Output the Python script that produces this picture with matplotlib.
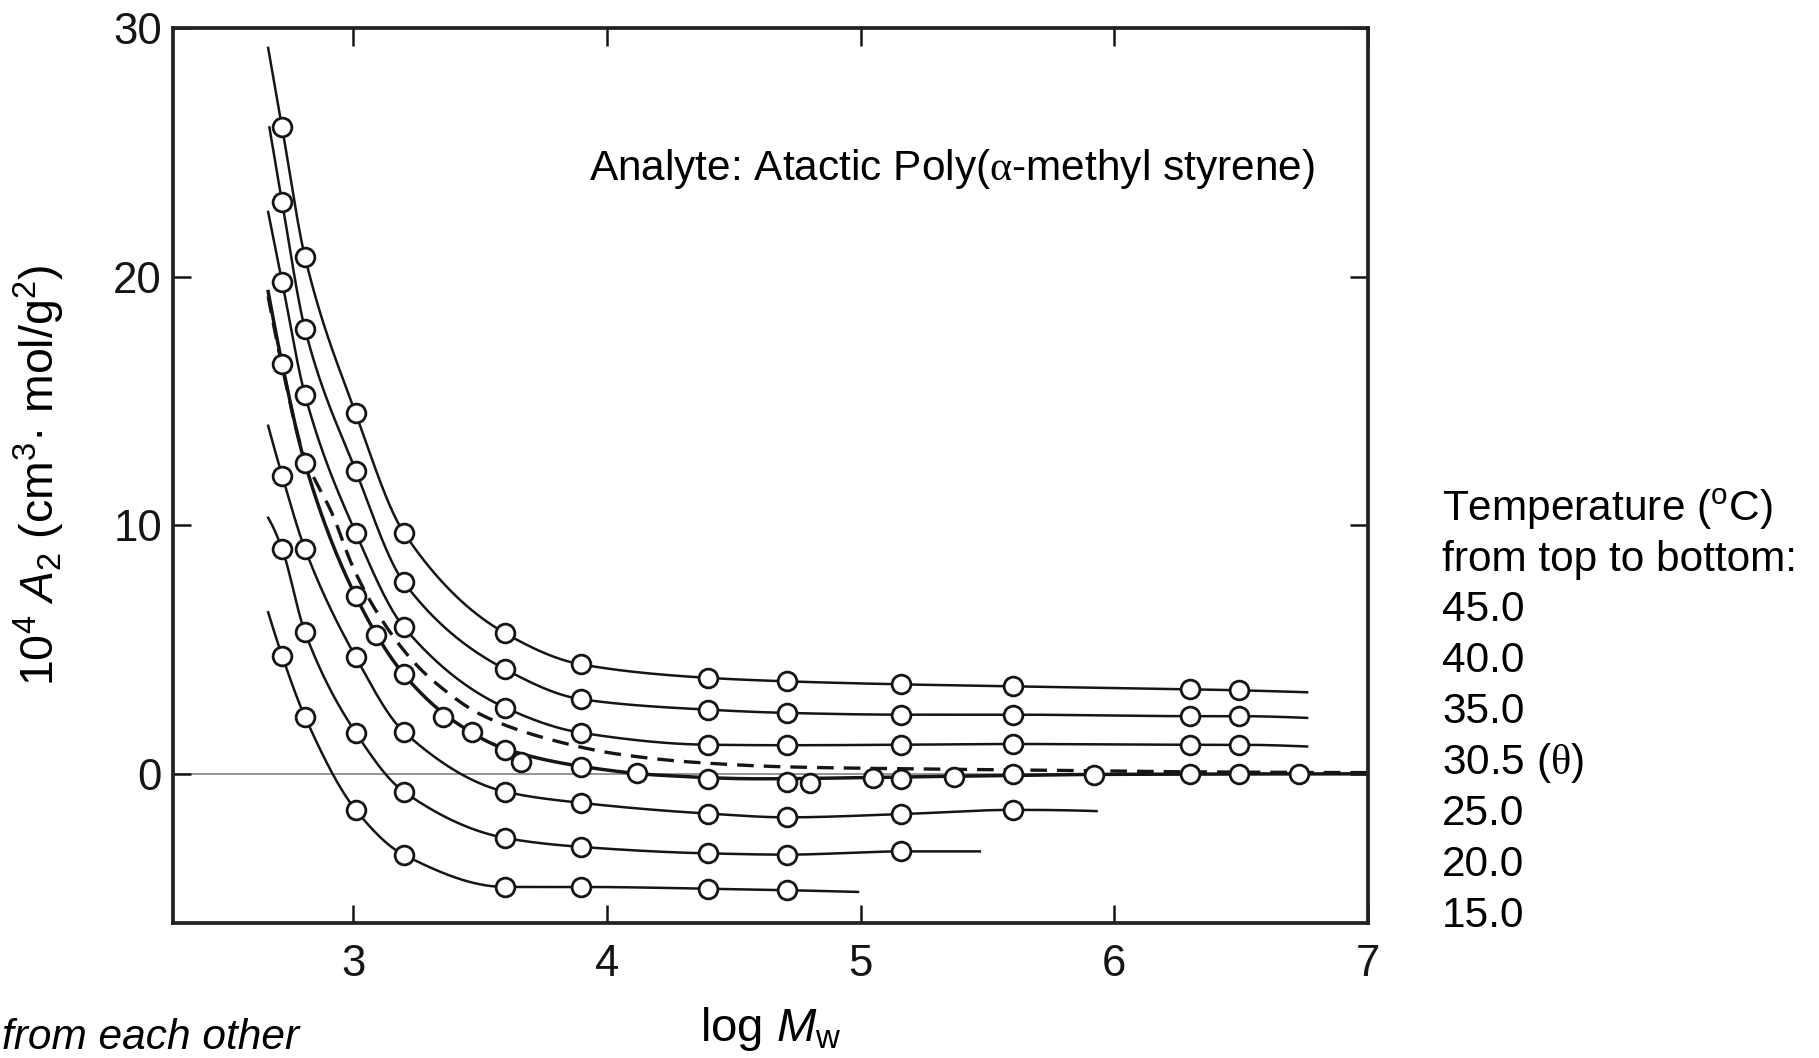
import numpy as np
import matplotlib
matplotlib.use("Agg")
import matplotlib.pyplot as plt

plt.rcParams["font.family"] = ["Liberation Sans", "DejaVu Sans"]
plt.rcParams["mathtext.fontset"] = "custom"
plt.rcParams["mathtext.rm"] = "Liberation Sans"
plt.rcParams["mathtext.it"] = "Liberation Sans:italic"
plt.rcParams["mathtext.sf"] = "Liberation Serif"

# ---- measured A2 values (10^4 cm^3 mol / g^2) versus log Mw ----
t45_x = [2.72, 2.81, 3.01, 3.20, 3.60, 3.90, 4.40, 4.71, 5.16, 5.60, 6.30, 6.49]
t45_y = [26.0, 20.8, 14.5, 9.7, 5.65, 4.4, 3.86, 3.72, 3.60, 3.52, 3.40, 3.36]

t40_x = [2.72, 2.81, 3.01, 3.20, 3.60, 3.90, 4.40, 4.71, 5.16, 5.60, 6.30, 6.49]
t40_y = [23.0, 17.9, 12.2, 7.7, 4.2, 3.0, 2.58, 2.45, 2.38, 2.38, 2.32, 2.32]

t35_x = [2.72, 2.81, 3.01, 3.20, 3.60, 3.90, 4.40, 4.71, 5.16, 5.60, 6.30, 6.49]
t35_y = [19.8, 15.25, 9.7, 5.9, 2.66, 1.65, 1.17, 1.15, 1.17, 1.20, 1.17, 1.17]

theta_x = [2.72, 2.81, 3.01, 3.09, 3.20, 3.355, 3.47, 3.60, 3.66, 3.90, 4.12,
           4.40, 4.71, 4.80, 5.05, 5.16, 5.37, 5.60, 5.92, 6.30, 6.49, 6.73]
theta_y = [16.5, 12.5, 7.15, 5.6, 4.0, 2.29, 1.69, 0.97, 0.48, 0.28, 0.04,
           -0.22, -0.34, -0.35, -0.17, -0.20, -0.11, 0.0, -0.04, 0.0, 0.0, 0.0]

t25_x = [2.72, 2.81, 3.01, 3.20, 3.60, 3.90, 4.40, 4.71, 5.16, 5.60]
t25_y = [12.0, 9.05, 4.7, 1.69, -0.72, -1.17, -1.60, -1.75, -1.62, -1.45]

t20_x = [2.72, 2.81, 3.01, 3.20, 3.60, 3.90, 4.40, 4.71, 5.16]
t20_y = [9.05, 5.7, 1.66, -0.72, -2.58, -2.94, -3.20, -3.25, -3.12]

t15_x = [2.72, 2.81, 3.01, 3.20, 3.60, 3.90, 4.40, 4.71]
t15_y = [4.75, 2.3, -1.45, -3.26, -4.55, -4.55, -4.62, -4.68]

# where each drawn curve begins and ends (x, y)
curve_start = {"45": (2.665, 29.2), "40": (2.67, 26.0), "35": (2.665, 22.6),
               "25": (2.665, 14.0), "20": (2.665, 10.3), "15": (2.665, 6.5)}
curve_end = {"45": (6.76, 3.28), "40": (6.76, 2.25), "35": (6.76, 1.10),
             "25": (5.93, -1.50), "20": (5.47, -3.12), "15": (4.99, -4.75)}

# smoothed theta-temperature curve
theta_line_x = [2.665, 2.72, 2.81, 3.01, 3.20, 3.40, 3.60, 3.90, 4.20, 4.60, 5.20, 6.00, 7.00]
theta_line_y = [19.4, 16.5, 12.5, 7.15, 4.0, 2.1, 1.0, 0.3, -0.05, -0.2, -0.12, -0.02, 0.0]

# dashed reference curve
dash_x = [2.665, 2.72, 2.80, 2.92, 3.00, 3.10, 3.23, 3.32, 3.51, 3.77, 4.04, 4.35, 4.71, 5.20, 5.70, 6.30, 7.00]
dash_y = [19.2, 16.4, 13.0, 10.4, 8.3, 6.4, 4.6, 3.7, 2.35, 1.4, 0.8, 0.46, 0.28, 0.20, 0.15, 0.08, 0.05]

x_ticks = [3, 4, 5, 6, 7]
y_ticks = [0, 10, 20, 30]

legend_lines = ["Temperature ($^{\\mathrm{o}}$C)", "from top to bottom:",
                "45.0", "40.0", "35.0", "30.5 ($\\mathsf{\\theta}$)",
                "25.0", "20.0", "15.0"]


def pchip(x, y, xs):
    """Shape-preserving piecewise cubic Hermite curve through (x, y)."""
    x = np.asarray(x, float)
    y = np.asarray(y, float)
    h = np.diff(x)
    d = np.diff(y) / h
    n = len(x)
    m = np.zeros(n)
    for k in range(1, n - 1):
        if d[k - 1] * d[k] > 0:
            w1 = 2 * h[k] + h[k - 1]
            w2 = h[k] + 2 * h[k - 1]
            m[k] = (w1 + w2) / (w1 / d[k - 1] + w2 / d[k])

    def end_slope(h0, h1, d0, d1):
        s = ((2 * h0 + h1) * d0 - h0 * d1) / (h0 + h1)
        if np.sign(s) != np.sign(d0):
            s = 0.0
        elif np.sign(d0) != np.sign(d1) and abs(s) > abs(3 * d0):
            s = 3 * d0
        return s

    m[0] = end_slope(h[0], h[1], d[0], d[1])
    m[-1] = end_slope(h[-1], h[-2], d[-1], d[-2])
    idx = np.clip(np.searchsorted(x, xs) - 1, 0, n - 2)
    t = (xs - x[idx]) / h[idx]
    h00 = 2 * t**3 - 3 * t**2 + 1
    h10 = t**3 - 2 * t**2 + t
    h01 = -2 * t**3 + 3 * t**2
    h11 = t**3 - t**2
    return h00 * y[idx] + h10 * h[idx] * m[idx] + h01 * y[idx + 1] + h11 * h[idx] * m[idx + 1]


W, H = 1819, 1058
fig = plt.figure(figsize=(W / 100, H / 100), dpi=100)
fig.patch.set_facecolor("white")
ax = fig.add_axes([173 / W, 1 - 923 / H, (1368 - 173) / W, (923 - 28) / H])

ink = "#151515"
ax.axhline(0, color="#8c8c8c", lw=1.3, zorder=1)

series = [("45", t45_x, t45_y), ("40", t40_x, t40_y), ("35", t35_x, t35_y),
          ("25", t25_x, t25_y), ("20", t20_x, t20_y), ("15", t15_x, t15_y)]
for key, mx, my in series:
    x0, y0 = curve_start[key]
    x1, y1 = curve_end[key]
    lx = [x0] + list(mx) + [x1]
    ly = [y0] + list(my) + [y1]
    xs = np.linspace(x0, x1, 600)
    ax.plot(xs, pchip(lx, ly, xs), color=ink, lw=1.8, zorder=2)
    ax.plot(mx, my, "o", ms=13.5, mfc="white", mec=ink, mew=2.0, zorder=3)

xs = np.linspace(theta_line_x[0], theta_line_x[-1], 800)
ax.plot(xs, pchip(theta_line_x, theta_line_y, xs), color=ink, lw=2.5, zorder=2)
xs = np.linspace(dash_x[0], dash_x[-1], 800)
ax.plot(xs, pchip(dash_x, dash_y, xs), color=ink, lw=2.4, ls=(0, (5, 3)), zorder=2)
ax.plot(theta_x, theta_y, "o", ms=13.5, mfc="white", mec=ink, mew=2.0, zorder=3)

ax.set_xlim(2.29, 7.0)
ax.set_ylim(-6, 30)
ax.set_xticks(x_ticks)
ax.set_yticks(y_ticks)
ax.tick_params(direction="in", length=13, width=1.8, top=True, right=True,
               labelsize=31.5, colors=ink)
ax.tick_params(axis="x", pad=15)
ax.tick_params(axis="y", pad=8)
for s in ax.spines.values():
    s.set_linewidth(2.7)
    s.set_color("#222222")

ax.set_xlabel("log $M_{\\mathrm{w}}$", fontsize=34)
ax.xaxis.set_label_coords(0.5, -0.092)
ax.set_ylabel("10$^{4}$ $A_{2}$ (cm$^{3}$· mol/g$^{2}$)", fontsize=33.5)
ax.yaxis.set_label_coords(-0.089, 0.5)

fig.text(589 / W, 1 - 180 / H, "Analyte: Atactic Poly($\\mathsf{\\alpha}$-methyl styrene)",
         fontsize=30.5, ha="left", va="baseline")

baselines = [521, 571, 621, 672, 723, 774, 825, 876, 927]
for txt, b in zip(legend_lines, baselines):
    fig.text(1442 / W, 1 - b / H, txt, fontsize=30.5, ha="left", va="baseline")

fig.text(2 / W, 1 - 1049 / H, "from each other", fontsize=30.5, style="italic",
         ha="left", va="baseline")

fig.savefig("out.png", dpi=100, facecolor="white")
